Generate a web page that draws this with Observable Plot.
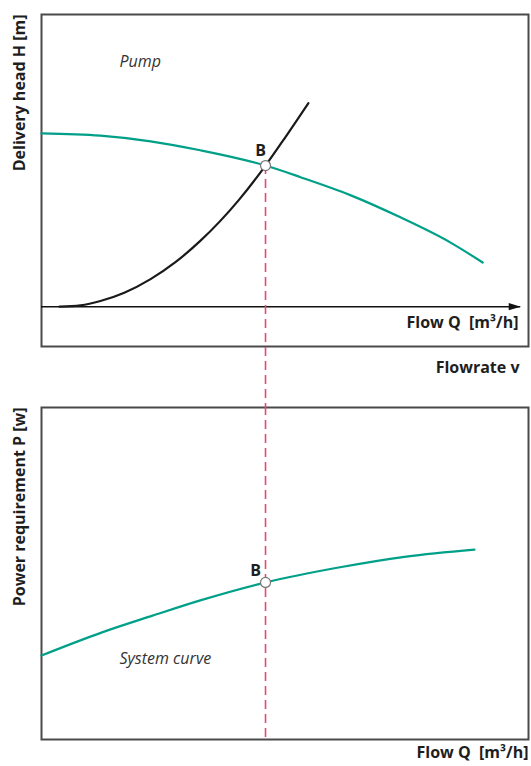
<!DOCTYPE html>
<html>
<head>
<meta charset="utf-8">
<script src="https://cdn.jsdelivr.net/npm/d3@7"></script>
<script src="https://cdn.jsdelivr.net/npm/@observablehq/plot@0.6"></script>
<style>
  html, body { margin: 0; padding: 0; background: #fff; }
  #chart svg { display: block; }
</style>
</head>
<body>
<div id="chart"></div>
<script>
// ---- data (arbitrary units) ----
const pumpQ   = [0, 12.1, 22.4, 32.6, 46.0, 53.2, 63.4, 73.7, 84.0, 90.6];
const pumpH   = [52.2, 51.5, 49.8, 47.1, 42.5, 39.0, 33.6, 26.9, 19.3, 13.3];
const systemQ = [3.7, 8.0, 12.1, 17.0, 22.4, 27.5, 32.6, 40.5, 46.0, 50.1, 54.8];
const systemH = [0, 0.4, 1.7, 4.2, 8.3, 13.4, 19.8, 32.1, 42.5, 51.1, 61.3];
const powerQ  = [0, 12.3, 22.8, 32.6, 46.0, 61.0, 74.9, 88.9];
const powerP  = [25.3, 32.2, 37.3, 41.9, 47.3, 51.8, 55.1, 57.2];
const operatingQ = 46.0;   // B
const operatingH = 42.5;
const operatingP = 47.3;
const axisEndQ = 98.4;

const labels = {
  head: "Delivery head H [m]",
  power: "Power requirement P [w]",
  flow: "Flow Q\u00a0 [m³/h]",
  flowrate: "Flowrate v",
  pump: "Pump",
  system: "System curve",
  point: "B"
};

// ---- layout / styles ----
const W = 531;
const green = "#00a088";
const red = "#e54a72";
const ink = "#1e1e1e";
const font = "'Open Sans', sans-serif";
const fs = 16;
const xDomain = [0, 100];
const topY = [-12, 88];
const botY = [0, 100];
const topHeight = 406, topMT = 14, topMB = 60;
const botHeight = 360, botMT = 1, botMB = 27;
const topPxPerUnit = (topHeight - topMT - topMB) / (topY[1] - topY[0]);
const gapBottomH = topY[0] - topMB / topPxPerUnit;

const toRows = (xs, ys) => xs.map((x, i) => ({x, y: ys[i]}));
const pump = toRows(pumpQ, pumpH);
const system = toRows(systemQ, systemH);
const power = toRows(powerQ, powerP);

const arrowHead = {
  draw(ctx) {
    ctx.moveTo(0, 0);
    ctx.lineTo(-12, -3.6);
    ctx.lineTo(-12, 3.6);
    ctx.closePath();
  }
};

const common = {
  width: W,
  marginLeft: 41,
  marginRight: 3,
  x: {domain: xDomain, axis: null},
  style: {fontFamily: font, fontSize: fs + "px", color: ink, background: "#fff"}
};

const bold = {fontWeight: "bold", fontSize: fs, fill: ink};
const ital = {fontStyle: "italic", fontSize: fs, fill: "#333"};

const topPanel = Plot.plot({
  ...common,
  height: topHeight,
  marginTop: topMT,
  marginBottom: topMB,
  y: {domain: topY, axis: null},
  marks: [
    Plot.frame({stroke: "#4a4a4a", strokeWidth: 2}),
    Plot.ruleY([0], {x1: 0, x2: axisEndQ, stroke: "#111", strokeWidth: 1.5}),
    Plot.dot([axisEndQ], {x: d => d, y: () => 0, symbol: arrowHead, fill: "#111", stroke: "none", r: 5}),
    Plot.line(pump, {x: "x", y: "y", stroke: green, strokeWidth: 2.2, curve: "monotone-x"}),
    Plot.line(system, {x: "x", y: "y", stroke: "#1a1a1a", strokeWidth: 2.2, curve: "monotone-x"}),
    Plot.ruleX([operatingQ], {x: d => d, y1: () => operatingH, y2: () => gapBottomH,
      stroke: red, strokeWidth: 1.6, strokeDasharray: "9,5"}),
    Plot.dot([operatingQ], {x: d => d, y: () => operatingH, r: 5, fill: "#fff", stroke: "#777", strokeWidth: 1.2}),
    Plot.text([labels.point], {x: () => operatingQ, y: () => operatingH, dx: -5, dy: -10,
      textAnchor: "middle", lineAnchor: "bottom", ...bold}),
    Plot.text([labels.pump], {x: () => 16.0, y: () => 72.3, textAnchor: "start", lineAnchor: "bottom", ...ital}),
    Plot.text([labels.head], {frameAnchor: "top-left", rotate: -90, dx: -17, textAnchor: "end",
      lineAnchor: "bottom", ...bold}),
    Plot.text([labels.flow], {frameAnchor: "bottom-right", dx: -10, dy: -19, textAnchor: "end",
      lineAnchor: "bottom", ...bold}),
    Plot.text([labels.flowrate], {frameAnchor: "bottom-right", dx: -9, dy: 26, textAnchor: "end",
      lineAnchor: "bottom", ...bold})
  ]
});

const bottomPanel = Plot.plot({
  ...common,
  height: botHeight,
  marginTop: botMT,
  marginBottom: botMB,
  y: {domain: botY, axis: null},
  marks: [
    Plot.frame({stroke: "#4a4a4a", strokeWidth: 2}),
    Plot.ruleX([operatingQ], {x: d => d, insetTop: -botMT, stroke: red, strokeWidth: 1.6, strokeDasharray: "9,5"}),
    Plot.line(power, {x: "x", y: "y", stroke: green, strokeWidth: 2.2, curve: "monotone-x"}),
    Plot.dot([operatingQ], {x: d => d, y: () => operatingP, r: 5, fill: "#fff", stroke: "#777", strokeWidth: 1.2}),
    Plot.text([labels.point], {x: () => operatingQ, y: () => operatingP, dx: -10, dy: -6,
      textAnchor: "middle", lineAnchor: "bottom", ...bold}),
    Plot.text([labels.system], {x: () => 16.0, y: () => 22.6, textAnchor: "start", lineAnchor: "bottom", ...ital}),
    Plot.text([labels.power], {frameAnchor: "top-left", rotate: -90, dx: -17, textAnchor: "end",
      lineAnchor: "bottom", ...bold}),
    Plot.text([labels.flow], {frameAnchor: "bottom-right", dx: 0, dy: 18, textAnchor: "end",
      lineAnchor: "bottom", ...bold})
  ]
});

const host = document.getElementById("chart");
host.appendChild(topPanel);
host.appendChild(bottomPanel);
</script>
</body>
</html>
